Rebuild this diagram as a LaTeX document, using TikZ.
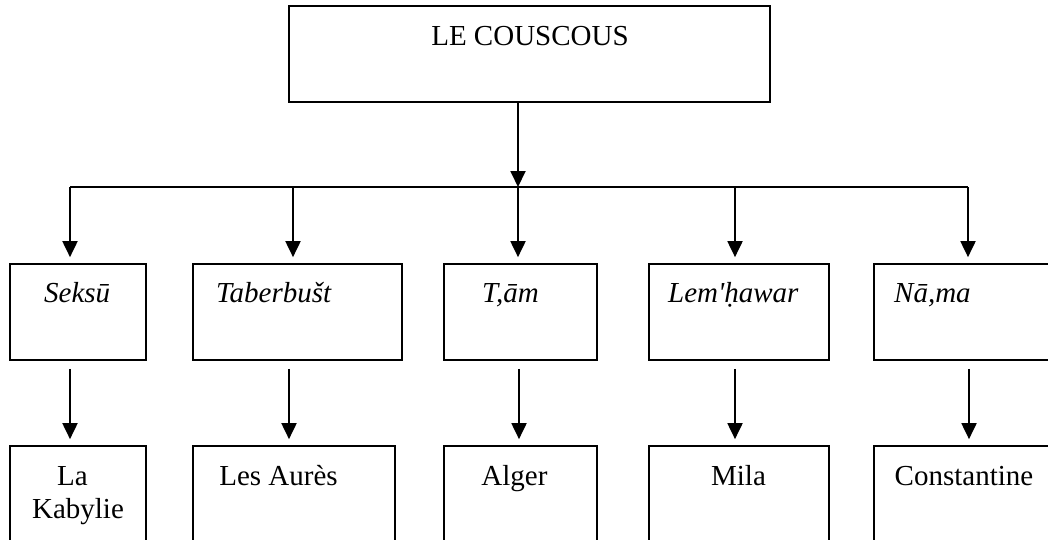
\documentclass[tikz,border=0pt]{standalone}
\usepackage{fontspec}
\setmainfont{Liberation Serif}[Ligatures=TeXOff]
\usetikzlibrary{arrows.meta}
\begin{document}
\begin{tikzpicture}[x=1pt,y=-1pt,
  box/.style={draw=black,line width=1.7pt,rectangle,inner sep=0pt,minimum height=96pt},
  lbl/.style={inner sep=0pt,font=\fontsize{29pt}{33pt}\selectfont},
  ilbl/.style={lbl,font=\fontsize{29pt}{33pt}\selectfont\itshape,anchor=base west},
  clbl/.style={lbl,anchor=base},
  arr/.style={line width=1.9pt,-{Triangle[length=16pt,width=15pt]}},
  bus/.style={line width=1.7pt}]
\useasboundingbox (0,0) rectangle (1048,539);
\clip (0,0) rectangle (1048,539);
\fill[white] (0,0) rectangle (1048,539);

% top box
\node[box,minimum width=481pt] (top) at (529.5,54) {};
\node[clbl] (toptxt) at (530,45) {LE COUSCOUS};

% bus
\coordinate (busc) at (518,187);
\coordinate (busL) at (70,187);
\coordinate (busR) at (968,187);
\draw[arr] (top.south -| busc) -- (busc);
\draw[bus] (busL) -- (busR);

% level 1 boxes
\node[box,minimum width=136pt] (a1) at (78,312) {};
\node[box,minimum width=209pt] (a2) at (297.5,312) {};
\node[box,minimum width=153pt] (a3) at (520.5,312) {};
\node[box,minimum width=180pt] (a4) at (739,312) {};
\node[box,minimum width=188pt] (a5) at (968,312) {};

\node[ilbl] (la1) at (44,302) {Seksū};
\node[ilbl] (la2) at (216,302) {Taberbušt};
\node[ilbl] (la3) at (482,302) {T,ām};
\node[ilbl] (la4) at (668,302) {Lem'ḥawar};
\node[ilbl] (la5) at (894,302) {Nā,ma};

% bus arrows
\coordinate (k1) at (70,187);
\coordinate (k2) at (293,187);
\coordinate (k3) at (518,187);
\coordinate (k4) at (735,187);
\coordinate (k5) at (968,187);
\foreach \i in {1,...,5}{
  \draw[arr,shorten >=6pt] (k\i) -- (k\i |- a\i.north);
}

% level 2 boxes
\node[box,minimum width=136pt] (b1) at (78,494) {};
\node[box,minimum width=202pt] (b2) at (294,494) {};
\node[box,minimum width=153pt] (b3) at (520.5,494) {};
\node[box,minimum width=180pt] (b4) at (739,494) {};
\node[box,minimum width=188pt] (b5) at (968,494) {};

\node[clbl] (lb1a) at (72.5,485) {La};
\node[clbl] (lb1b) at (78,518) {Kabylie};
\node[clbl] (lb2) at (278.5,485) {Les Aurès};
\node[clbl] (lb3) at (514.5,485) {Alger};
\node[clbl] (lb4) at (738.5,485) {Mila};
\node[clbl] (lb5) at (964,485) {Constantine};

% level 2 arrows
\coordinate (m1) at (70,0);
\coordinate (m2) at (289,0);
\coordinate (m3) at (519,0);
\coordinate (m4) at (735,0);
\coordinate (m5) at (969,0);
\foreach \i in {1,...,5}{
  \draw[arr,shorten <=8pt,shorten >=6pt] (m\i |- a\i.south) -- (m\i |- b\i.north);
}
\end{tikzpicture}
\end{document}
